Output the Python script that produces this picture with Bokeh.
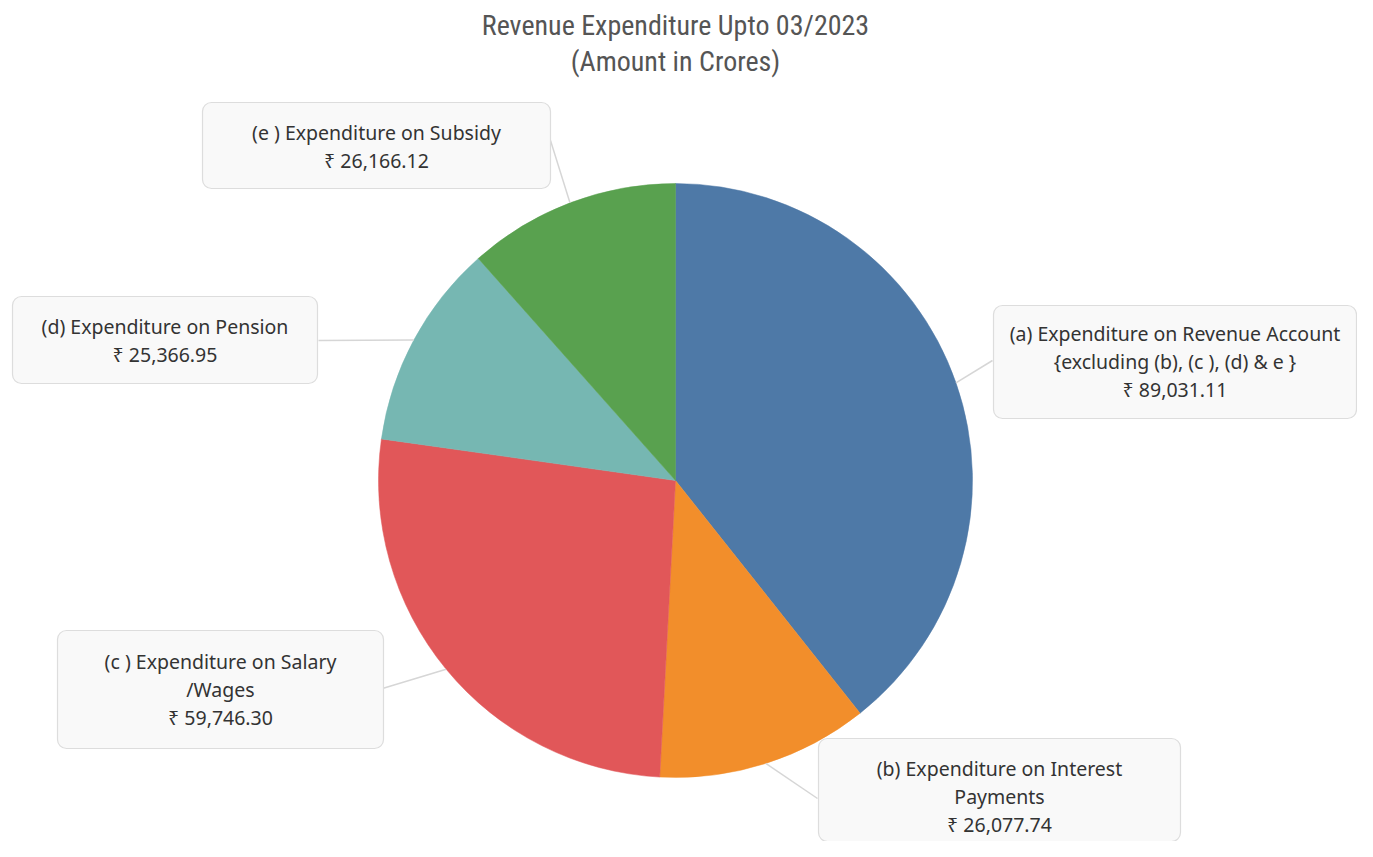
import math
from bokeh.plotting import figure
from bokeh.models import Range1d, ColumnDataSource
from bokeh.core.properties import value
from bokeh.embed import file_html
from bokeh.resources import INLINE

# ---- data ----
categories = [
    "(a) Expenditure on Revenue Account\n{excluding (b), (c ), (d) & e }",
    "(b) Expenditure on Interest\nPayments",
    "(c ) Expenditure on Salary\n/Wages",
    "(d) Expenditure on Pension",
    "(e ) Expenditure on Subsidy",
]
amounts = [89031.11, 26077.74, 59746.30, 25366.95, 26166.12]
colors = ["#4E79A7", "#F28E2B", "#E15759", "#76B7B2", "#59A14F"]
title_lines = ["Revenue Expenditure Upto 03/2023", "(Amount in Crores)"]

# ---- layout (screenshot pixel coordinates, y downward) ----
W, H = 1357, 841
def Y(py):
    return H - py

cx, cy, R = 675, 480, 297
# label boxes: left, right, top, bottom
boxes = [
    (993, 1356, 305, 418),
    (818, 1180, 738, 853),
    (57, 383, 630, 748),
    (12, 317, 296, 383),
    (202, 550, 102, 188),
]
first_line_y = [333, 768, 661, 326, 132]
line_gap = 28
leader_box_end = [(992, 360), (817, 798), (382, 688), (318, 340), (550, 140)]

p = figure(width=W, height=H, output_backend="svg", toolbar_location=None,
           x_range=Range1d(0, W), y_range=Range1d(0, H),
           min_border=0, outline_line_color=None)
p.axis.visible = False
p.grid.visible = False
p.background_fill_color = "white"
p.border_fill_color = "white"

# ---- pie ----
total = sum(amounts)
starts, ends, mids = [], [], []
cum = 0.0
for v in amounts:
    a0 = 90 - (cum + v) / total * 360
    a1 = 90 - cum / total * 360
    starts.append(math.radians(a0))
    ends.append(math.radians(a1))
    mids.append(math.radians((a0 + a1) / 2))
    cum += v

src = ColumnDataSource(dict(start=starts, end=ends, color=colors))
p.wedge(x=cx, y=Y(cy), radius=R, start_angle="start", end_angle="end",
        fill_color="color", line_color="color", line_width=0.5, source=src)

# ---- leader lines ----
x0s, y0s, x1s, y1s = [], [], [], []
for m, (bx, by) in zip(mids, leader_box_end):
    x0s.append(cx + R * math.cos(m))
    y0s.append(Y(cy) + R * math.sin(m))
    x1s.append(bx)
    y1s.append(Y(by))
p.segment(x0=x0s, y0=y0s, x1=x1s, y1=y1s, line_color="#d6d6d6", line_width=1.5)

# ---- label boxes ----
bl = [b[0] for b in boxes]
br = [b[1] for b in boxes]
bt = [Y(b[2]) for b in boxes]
bb = [Y(b[3]) for b in boxes]
p.block(x=bl, y=bb, width=[r - l for l, r in zip(bl, br)],
        height=[t - b for t, b in zip(bt, bb)],
        fill_color="#f9f9f9", line_color="#dddddd", line_width=1.2,
        border_radius=9)

tx, ty, tt = [], [], []
for cat, amt, (l, r, t, b), fy in zip(categories, amounts, boxes, first_line_y):
    lines = cat.split("\n") + ["\u20b9 {:,.2f}".format(amt)]
    for i, ln in enumerate(lines):
        tx.append((l + r) / 2)
        ty.append(Y(fy + i * line_gap))
        tt.append(ln)
p.text(x=tx, y=ty, text=tt, text_align="center", text_baseline="middle",
       text_font=value("Noto Sans"), text_font_size="19.5px", text_color="#333333")

# ---- title ----
p.text(x=[675, 675], y=[Y(25), Y(61)], text=title_lines, text_align="center",
       text_baseline="middle", text_font=value("Roboto Condensed"),
       text_font_size="28px", text_color="#555555")

open("out.html", "w").write(file_html(p, INLINE))
